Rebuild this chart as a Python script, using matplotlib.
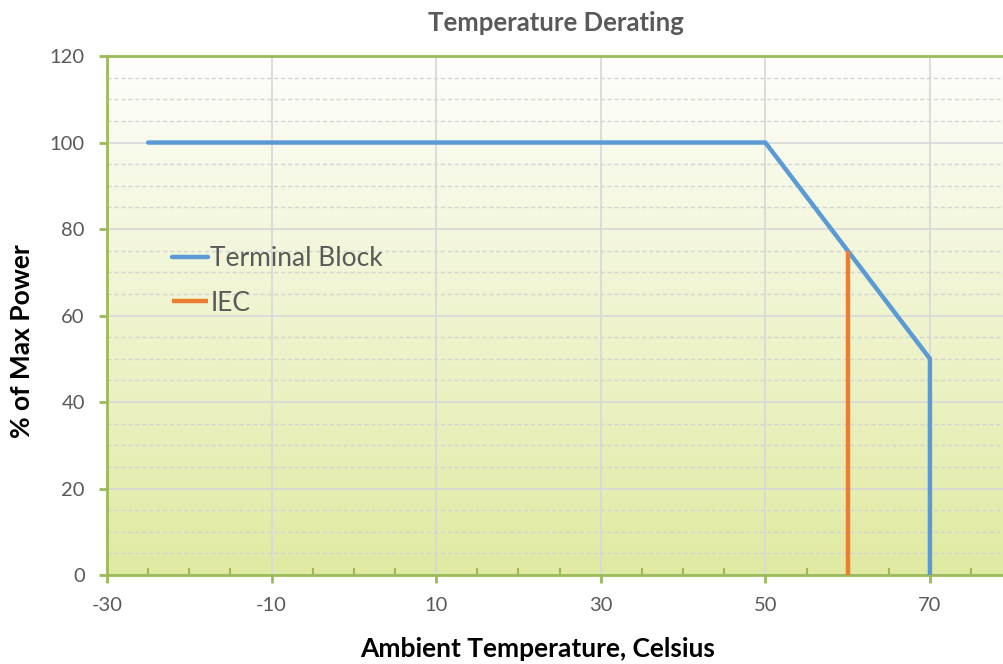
import numpy as np
import matplotlib.pyplot as plt
from matplotlib.colors import LinearSegmentedColormap

# Daten
tb_x = [-25, 50, 70, 70]
tb_y = [100, 100, 50, 0]
iec_x = [60, 60]
iec_y = [75, 0]
x_ticks = [-30, -10, 10, 30, 50, 70]
y_ticks = [0, 20, 40, 60, 80, 100, 120]

plt.rcParams['font.family'] = ['Lato', 'DejaVu Sans']
plt.rcParams['axes.unicode_minus'] = False

fig = plt.figure(figsize=(10.04, 6.64), dpi=100)
ax = fig.add_axes([0.1066, 0.134, 0.8934, 0.7816])

x0, x1 = -30, 79
y0, y1 = 0, 120
ax.set_xlim(x0, x1)
ax.set_ylim(y0, y1)

# Hintergrund-Verlauf
cmap = LinearSegmentedColormap.from_list('bg', ['#e1eaa2', '#fefefc'])
grad = np.linspace(0, 1, 256).reshape(-1, 1)
ax.imshow(grad, extent=[x0, x1, y0, y1], origin='lower', aspect='auto',
          cmap=cmap, zorder=0)

# Gitter
ax.set_xticks(x_ticks)
ax.set_xticks(np.arange(-25, 80, 5), minor=True)
ax.set_yticks(y_ticks)
ax.set_yticks(np.arange(0, 121, 5), minor=True)
ax.grid(which='major', color='#d9d9d9', lw=1.3, zorder=1)
ax.grid(which='minor', axis='y', color='#d4d4d4', lw=1.0, ls=(0, (3, 2)), zorder=1)

# Linien
ax.plot(tb_x, tb_y, color='#5b9bd5', lw=3.2, solid_capstyle='round',
        solid_joinstyle='round', label='Terminal Block', zorder=3)
ax.plot(iec_x, iec_y, color='#ed7d31', lw=3.2, solid_capstyle='butt',
        label='IEC', zorder=3)

# Achsen
green = '#9bbb59'
for s in ['left', 'bottom', 'top']:
    ax.spines[s].set_color(green)
    ax.spines[s].set_linewidth(2)
ax.spines['right'].set_visible(False)
ax.tick_params(which='major', color=green, width=2, length=6,
               labelsize=14.5, labelcolor='#595959', direction='out', pad=10)
ax.tick_params(axis='x', which='minor', color=green, width=1.5, length=5,
               direction='in')
ax.tick_params(axis='y', which='minor', length=0)

ax.set_title('Temperature Derating', fontsize=18.5, fontweight='bold',
             color='#595959', pad=18)
ax.set_xlabel('Ambient Temperature, Celsius', fontsize=19, fontweight='bold',
              color='black')
ax.xaxis.set_label_coords(0.4805, -0.119)
ax.set_ylabel('% of Max Power', fontsize=19, fontweight='bold',
              color='black')
ax.yaxis.set_label_coords(-0.081, 0.451)

leg = ax.legend(loc='upper left', bbox_to_anchor=(0.046, 0.68), frameon=False,
                fontsize=19, handlelength=1.35, handletextpad=0.1,
                labelspacing=0.75)
for t in leg.get_texts():
    t.set_color('#595959')

fig.savefig('out.png', dpi=100, facecolor='white')
